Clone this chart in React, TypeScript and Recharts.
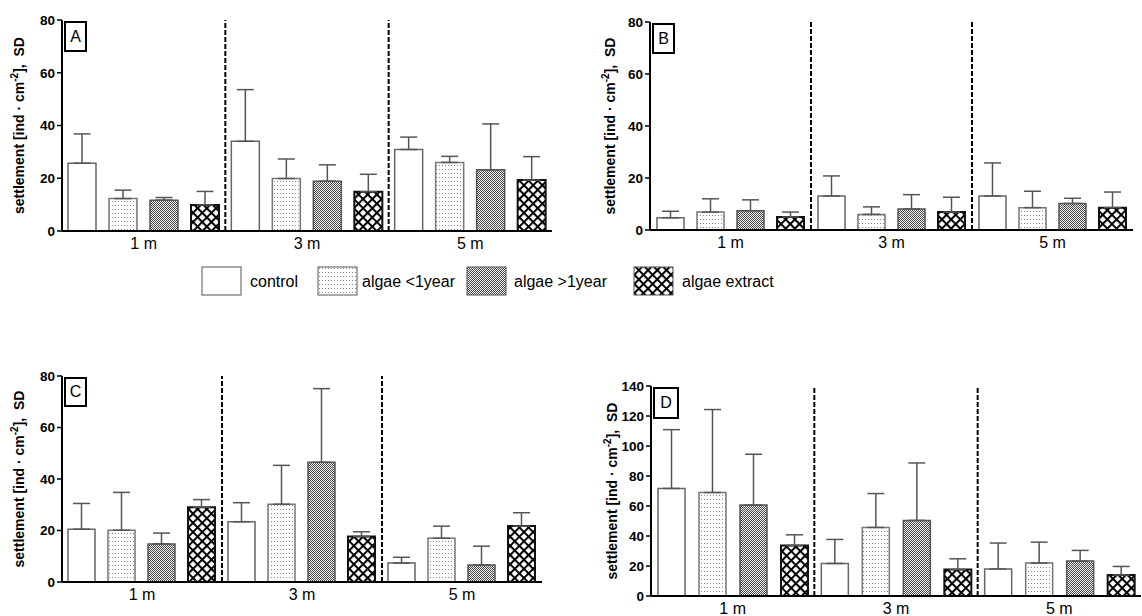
import React from "react";
import { BarChart, Bar, XAxis, YAxis, ErrorBar, ReferenceLine } from "recharts";

const depths = ["1 m", "3 m", "5 m"];
const seriesNames = ["control", "algae <1year", "algae >1year", "algae extract"];

// panel A: means and SD per treatment
const aControl = [25.7, 34.0, 30.9];
const aControlSd = [11.1, 19.6, 4.7];
const aYoung = [12.3, 19.9, 26.0];
const aYoungSd = [3.2, 7.4, 2.3];
const aOld = [11.7, 18.9, 23.2];
const aOldSd = [1.0, 6.2, 17.4];
const aExtract = [9.9, 14.9, 19.3];
const aExtractSd = [5.1, 6.6, 8.9];

// panel B
const bControl = [4.7, 13.1, 13.1];
const bControlSd = [2.5, 7.7, 12.7];
const bYoung = [6.9, 6.0, 8.6];
const bYoungSd = [5.1, 2.9, 6.3];
const bOld = [7.4, 8.1, 10.2];
const bOldSd = [4.2, 5.5, 2.0];
const bExtract = [5.0, 6.9, 8.6];
const bExtractSd = [1.9, 5.7, 6.0];

// panel C
const cControl = [20.5, 23.4, 7.4];
const cControlSd = [10.0, 7.4, 2.2];
const cYoung = [20.1, 30.2, 17.0];
const cYoungSd = [14.7, 15.1, 4.7];
const cOld = [14.8, 46.5, 6.6];
const cOldSd = [4.2, 28.6, 7.3];
const cExtract = [29.0, 17.7, 21.7];
const cExtractSd = [3.0, 1.8, 5.2];

// panel D
const dControl = [71.7, 21.7, 18.0];
const dControlSd = [39.2, 16.0, 17.3];
const dYoung = [69.0, 45.7, 22.0];
const dYoungSd = [55.3, 22.6, 13.9];
const dOld = [60.6, 50.4, 23.3];
const dOldSd = [33.9, 38.3, 7.1];
const dExtract = [33.7, 17.7, 14.0];
const dExtractSd = [7.1, 7.1, 5.7];

const ticks80 = [0, 20, 40, 60, 80];
const ticks140 = [0, 20, 40, 60, 80, 100, 120, 140];

const FONT = '"Liberation Sans", Arial, Helvetica, sans-serif';
const keys = ["control", "young", "old", "extract"];
const fills = ["#ffffff", "url(#dots)", "url(#checker)", "url(#hatch)"];
const strokes = ["#666", "#777", "#555", "#111"];

function buildRows(means: number[][], sds: number[][]) {
  return depths.map((depth, i) => {
    const row: any = { depth, pos: i + 0.5 };
    keys.forEach((k, s) => {
      row[k] = means[s][i];
      row[k + "Sd"] = [0, sds[s][i]];
    });
    return row;
  });
}

const rowsA = buildRows([aControl, aYoung, aOld, aExtract], [aControlSd, aYoungSd, aOldSd, aExtractSd]);
const rowsB = buildRows([bControl, bYoung, bOld, bExtract], [bControlSd, bYoungSd, bOldSd, bExtractSd]);
const rowsC = buildRows([cControl, cYoung, cOld, cExtract], [cControlSd, cYoungSd, cOldSd, cExtractSd]);
const rowsD = buildRows([dControl, dYoung, dOld, dExtract], [dControlSd, dYoungSd, dOldSd, dExtractSd]);

interface PanelProps {
  letter: string;
  rows: any[];
  x: number; // plot left on page
  y: number; // plot top on page
  w: number;
  h: number;
  max: number;
  ticks: number[];
  labelOffset: number;
  right: number;
  catGap: number;
  gap: number;
  boxW: number;
  boxH: number;
}

function Panel({ letter, rows, x, y, w, h, max, ticks, labelOffset, right, catGap, gap, boxW, boxH }: PanelProps) {
  const axisW = 50;
  const left0 = 62;
  const top0 = 20;
  const chartW = w + left0 + right;
  const chartH = h + top0 + 30;

  const yLabel = () => {
    const cx = left0 - labelOffset;
    const cy = top0 + h / 2;
    return (
      <text
        x={cx}
        y={cy}
        transform={`rotate(-90 ${cx} ${cy})`}
        textAnchor="middle"
        dominantBaseline="central"
        fontFamily={FONT}
        fontWeight="bold"
        fontSize={14}
        fill="#000"
        style={{ whiteSpace: "pre" }}
      >
        {"settlement [ind \u00b7 cm"}
        <tspan dy={-5} fontSize={10}>-2</tspan>
        <tspan dy={5}>{"],  SD"}</tspan>
      </text>
    );
  };

  return (
    <>
      <div style={{ position: "absolute", left: x - left0, top: y - top0 }}>
        <BarChart
          width={chartW}
          height={chartH}
          data={rows}
          margin={{ top: top0, left: left0 - axisW, right, bottom: 0 }}
          barCategoryGap={catGap}
          barGap={gap}
        >
          <XAxis
            dataKey="depth"
            height={30}
            axisLine={{ stroke: "#000", strokeWidth: 2 }}
            tickLine={false}
            tickSize={5}
            tickMargin={2}
            tick={{ fill: "#000", fontSize: 16, fontFamily: FONT }}
          />
          <XAxis xAxisId="sep" dataKey="pos" type="number" domain={[0, 3]} allowDataOverflow hide />
          <YAxis
            width={axisW}
            domain={[0, max]}
            ticks={ticks}
            interval={0}
            axisLine={{ stroke: "#000", strokeWidth: 2 }}
            tickLine={{ stroke: "#000", strokeWidth: 1.5 }}
            tickSize={5}
            tickMargin={2}
            tick={{ fill: "#000", fontSize: 13.5, fontWeight: "bold", fontFamily: FONT }}
            label={{ content: yLabel }}
          />
          <ReferenceLine xAxisId="sep" x={1} stroke="#000" strokeWidth={2} strokeDasharray="5 2" />
          <ReferenceLine xAxisId="sep" x={2} stroke="#000" strokeWidth={2} strokeDasharray="5 2" />
          {keys.map((k, s) => (
            <Bar
              key={k}
              dataKey={k}
              name={seriesNames[s]}
              fill={fills[s]}
              stroke={strokes[s]}
              strokeWidth={s === 3 ? 2 : 1.5}
              isAnimationActive={false}
            >
              <ErrorBar dataKey={k + "Sd"} direction="y" width={8.5} stroke="#555" strokeWidth={1.5} />
            </Bar>
          ))}
        </BarChart>
      </div>
      <div
        style={{
          position: "absolute",
          left: x + 2,
          top: y + 1,
          width: boxW - 5,
          height: boxH - 5,
          border: "2.5px solid #000",
          fontFamily: FONT,
          fontSize: 16,
          lineHeight: `${boxH - 5}px`,
          textAlign: "center",
          background: "#fff",
        }}
      >
        {letter}
      </div>
    </>
  );
}

function Legend() {
  const boxX = [202, 318, 467, 634];
  const textX = [250, 362, 514, 682];
  return (
    <svg style={{ position: "absolute", left: 0, top: 255 }} width={800} height={50}>
      {seriesNames.map((n, s) => (
        <g key={n}>
          <rect x={boxX[s]} y={12} width={39} height={28} fill={fills[s]} stroke="#555" strokeWidth={1} />
          <text x={textX[s]} y={26} dominantBaseline="central" fontFamily={FONT} fontSize={16} fill="#000">
            {n}
          </text>
        </g>
      ))}
    </svg>
  );
}

export default function App() {
  return (
    <div
      style={{
        position: "absolute",
        left: 0,
        top: 0,
        width: 1142,
        height: 616,
        overflow: "hidden",
        background: "#fff",
      }}
    >
      <svg width={0} height={0} style={{ position: "absolute" }}>
        <defs>
          <pattern id="dots" width={3} height={4} patternUnits="userSpaceOnUse">
            <rect width={3} height={4} fill="#fff" />
            <rect x={1} y={1} width={1} height={1} fill="#888" />
          </pattern>
          <pattern id="checker" width={2} height={2} patternUnits="userSpaceOnUse">
            <rect width={2} height={2} fill="#f2f2f2" />
            <rect width={1} height={1} fill="#4a4a4a" />
            <rect x={1} y={1} width={1} height={1} fill="#4a4a4a" />
          </pattern>
          <pattern id="hatch" width={6.5} height={6.5} patternUnits="userSpaceOnUse" patternTransform="rotate(45)">
            <rect width={6.5} height={6.5} fill="#fff" />
            <rect width={6.5} height={2} fill="#000" />
            <rect width={2} height={6.5} fill="#000" />
          </pattern>
        </defs>
      </svg>
      <Panel letter="A" rows={rowsA} x={62} y={20} w={490} h={211} max={80} ticks={ticks80}
        labelOffset={43} right={6} catGap={6} gap={13} boxW={24} boxH={32} />
      <Panel letter="B" rows={rowsB} x={650} y={22} w={483} h={208} max={80} ticks={ticks80}
        labelOffset={40} right={6} catGap={7} gap={13} boxW={24} boxH={32} />
      <Panel letter="C" rows={rowsC} x={62} y={376} w={480} h={206} max={80} ticks={ticks80}
        labelOffset={43} right={6} catGap={6} gap={13} boxW={24} boxH={31} />
      <Panel letter="D" rows={rowsD} x={651} y={386} w={490} h={210} max={140} ticks={ticks140}
        labelOffset={39} right={1} catGap={7} gap={14} boxW={27} boxH={33} />
      <Legend />
    </div>
  );
}
